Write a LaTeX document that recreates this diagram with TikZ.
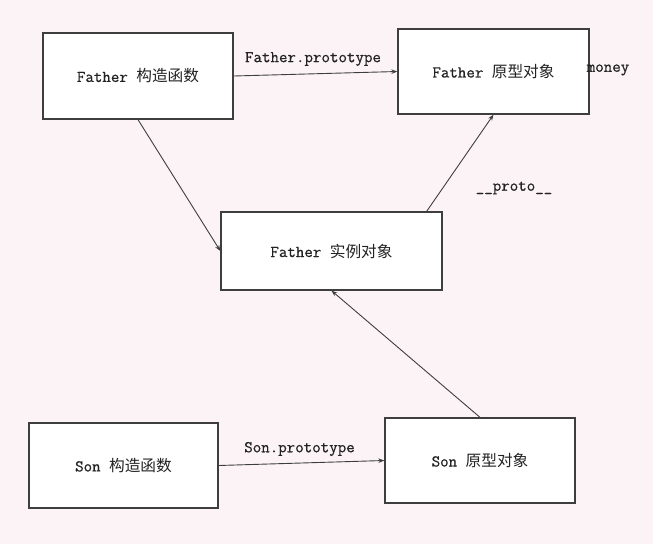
\documentclass[tikz,border=0pt]{standalone}
\usepackage{fontspec}
\newfontfamily\cjk{Noto Sans CJK SC}[Scale=0.95]
\newfontfamily\mono{Latin Modern Mono}[FakeBold=0.6]
\usetikzlibrary{arrows.meta}
\definecolor{paper}{RGB}{252,243,246}
\definecolor{ink}{RGB}{62,62,62}
\definecolor{txt}{RGB}{34,34,34}
\begin{document}
\begin{tikzpicture}[x=1pt,y=-1pt,
  box/.style={draw=ink, line width=1.3pt, fill=white, inner sep=0pt,
    text=txt, font=\fontsize{16.5}{18}\selectfont\mono},
  link/.style={draw=ink, line width=0.9pt, -{Stealth[length=6pt,width=4.5pt]}},
  lbl/.style={text=txt, inner sep=0pt, font=\fontsize{16.5}{18}\selectfont\mono}]
  % page
  \fill[paper] (0,0) rectangle (653,544);
  \useasboundingbox (0,0) rectangle (653,544);

  % objects
  \node[box, minimum width=190pt, minimum height=86pt] (fctor) at (138,76) {Father {\cjk 构造函数}};
  \node[box, minimum width=191pt, minimum height=85pt] (fproto) at (493.5,71.5) {Father {\cjk 原型对象}};
  \node[box, minimum width=221pt, minimum height=78pt] (finst) at (331.5,251) {Father {\cjk 实例对象}};
  \node[box, minimum width=189pt, minimum height=85pt] (sctor) at (123.5,465.5) {Son {\cjk 构造函数}};
  \node[box, minimum width=190pt, minimum height=85pt] (sproto) at (480,460.5) {Son {\cjk 原型对象}};

  % free labels
  \node[lbl] (money) at (608,70) {money};
  \node[lbl] (fplabel) at (313,59) {Father.prototype};
  \node[lbl] (protolabel) at (514,188) {\_\_proto\_\_};
  \node[lbl] (splabel) at (299.5,449) {Son.prototype};

  % links
  \draw[link] (fctor.east) -- (fproto.west);
  \draw[link] (fctor.south) -- (finst.west);
  \draw[link] ([xshift=-16pt]finst.north east) -- (fproto.south);
  \draw[link] (sproto.north) -- (finst.south);
  \draw[link] (sctor.east) -- (sproto.west);
\end{tikzpicture}
\end{document}
